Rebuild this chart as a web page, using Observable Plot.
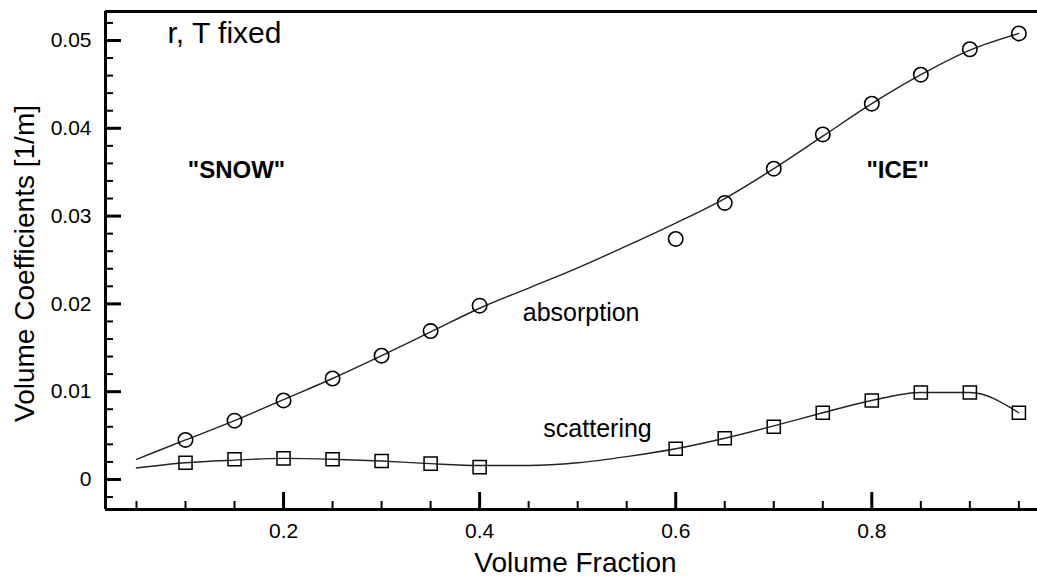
<!DOCTYPE html>
<html>
<head>
<meta charset="utf-8">
<script src="https://cdn.jsdelivr.net/npm/d3@7"></script>
<script src="https://cdn.jsdelivr.net/npm/@observablehq/plot@0.6"></script>
<style>
  html, body { margin: 0; padding: 0; background: #fff; }
  #chart svg { display: block; }
</style>
</head>
<body>
<div id="chart"></div>
<script>
// ---- Data ----
const fractions = [0.10, 0.15, 0.20, 0.25, 0.30, 0.35, 0.40, 0.60, 0.65, 0.70, 0.75, 0.80, 0.85, 0.90, 0.95];
const absorptionPts = [0.0045, 0.0067, 0.0090, 0.0115, 0.0141, 0.0169, 0.0198, 0.0274, 0.0315, 0.0354, 0.0393, 0.0428, 0.0461, 0.0490, 0.0508];
const scatteringPts = [0.0019, 0.0023, 0.0024, 0.0023, 0.0021, 0.0018, 0.0014, 0.0035, 0.0047, 0.0060, 0.0076, 0.0090, 0.0099, 0.0099, 0.0076];

// fitted curves
const curveX = [0.05, 0.10, 0.15, 0.20, 0.25, 0.30, 0.35, 0.40, 0.45, 0.50, 0.55, 0.60, 0.65, 0.70, 0.75, 0.80, 0.85, 0.90, 0.95];
const absorptionCurve = [0.0023, 0.0045, 0.0067, 0.0091, 0.0115, 0.0141, 0.0168, 0.0195, 0.0218, 0.0241, 0.0266, 0.0292, 0.0320, 0.0354, 0.0391, 0.0428, 0.0461, 0.0489, 0.0508];
const scatteringCurve = [0.0013, 0.0019, 0.0022, 0.0024, 0.0023, 0.0021, 0.0018, 0.0016, 0.0016, 0.0019, 0.0026, 0.0035, 0.0047, 0.0061, 0.0076, 0.0090, 0.0099, 0.0099, 0.0076];

// ticks
const xMajorTicks = [0.2, 0.4, 0.6, 0.8];
const xMinorTicks = [0.05, 0.10, 0.15, 0.25, 0.30, 0.35, 0.45, 0.50, 0.55, 0.65, 0.70, 0.75, 0.85, 0.90, 0.95];
const yMajorTicks = [0, 0.01, 0.02, 0.03, 0.04, 0.05];
const yMinorTicks = [-0.002, 0.002, 0.004, 0.006, 0.008, 0.012, 0.014, 0.016, 0.018, 0.022, 0.024, 0.026, 0.028,
                     0.032, 0.034, 0.036, 0.038, 0.042, 0.044, 0.046, 0.048, 0.052];

const xTitle = "Volume Fraction";
const yTitle = "Volume Coefficients [1/m]";

// ---- Layout ----
const W = 1037, H = 576, mL = 105, mR = 0, mT = 11, mB = 67;
const xDomain = [0.0184, 0.969];
const yDomain = [-0.00342, 0.0533];
// convert a tick length in pixels into data units along each axis
const xPerPx = (xDomain[1] - xDomain[0]) / (W - mL - mR);
const yPerPx = (yDomain[1] - yDomain[0]) / (H - mT - mB);

// ---- Build tables ----
const points = fractions.map((f, i) => ({f, abs: absorptionPts[i], sca: scatteringPts[i]}));
const curves = curveX.map((f, i) => ({f, abs: absorptionCurve[i], sca: scatteringCurve[i]}));

const ink = "#000";
const font = "'Liberation Sans', Arial, Helvetica, sans-serif";

const chart = Plot.plot({
  width: W,
  height: H,
  marginLeft: mL,
  marginRight: mR,
  marginTop: mT,
  marginBottom: mB,
  style: {fontFamily: font, fontSize: "21px", background: "#fff", color: ink},
  x: {domain: xDomain},
  y: {domain: yDomain},
  marks: [
    // fitted curves
    Plot.line(curves, {x: "f", y: "abs", curve: "monotone-x", stroke: "#222", strokeWidth: 1.4}),
    Plot.line(curves, {x: "f", y: "sca", curve: "monotone-x", stroke: "#222", strokeWidth: 1.4}),
    // markers
    Plot.dot(points, {x: "f", y: "abs", r: 7.2, symbol: "circle", stroke: ink, strokeWidth: 1.6, fill: "none"}),
    Plot.dot(points, {x: "f", y: "sca", r: 7.4, symbol: "square", stroke: ink, strokeWidth: 1.5, fill: "none"}),
    // inward ticks
    Plot.ruleY(yMajorTicks, {x1: xDomain[0], x2: xDomain[0] + 16 * xPerPx, stroke: ink, strokeWidth: 3}),
    Plot.ruleY(yMinorTicks, {x1: xDomain[0], x2: xDomain[0] + 8 * xPerPx, stroke: ink, strokeWidth: 2}),
    Plot.ruleX(xMajorTicks, {y1: yDomain[0], y2: yDomain[0] + 17 * yPerPx, stroke: ink, strokeWidth: 3}),
    Plot.ruleX(xMinorTicks, {y1: yDomain[0], y2: yDomain[0] + 8 * yPerPx, stroke: ink, strokeWidth: 2}),
    // frame lines
    Plot.ruleX([xDomain[0]], {stroke: ink, strokeWidth: 3}),
    Plot.ruleY([yDomain[0]], {stroke: ink, strokeWidth: 3}),
    Plot.ruleY([yDomain[1]], {stroke: ink, strokeWidth: 3}),
    // tick labels
    Plot.axisY(yMajorTicks, {tickSize: 0, tickPadding: 14, tickFormat: d => String(d), fontSize: 21, fill: ink, label: null}),
    Plot.axisX(xMajorTicks, {tickSize: 0, tickPadding: 14, tickFormat: d => String(d), fontSize: 21, fill: ink, label: null}),
    // axis titles
    Plot.text([xTitle], {frameAnchor: "bottom", dy: 62, dx: 4, text: d => d, textAnchor: "middle", lineAnchor: "bottom", fontSize: 28, fill: ink}),
    Plot.text([yTitle], {frameAnchor: "left", dx: -80, dy: 3, text: d => d, textAnchor: "middle", rotate: -90, fontSize: 28, fill: ink}),
    // annotations
    Plot.text(["r, T fixed"], {x: 0.0816, y: 0.0497, text: d => d, textAnchor: "start", lineAnchor: "bottom", fontSize: 30, fill: ink}),
    Plot.text(["\"SNOW\""], {x: 0.152, y: 0.0343, text: d => d, lineAnchor: "bottom", fontSize: 24, fontWeight: "bold", fill: ink}),
    Plot.text(["\"ICE\""], {x: 0.8265, y: 0.0343, text: d => d, lineAnchor: "bottom", fontSize: 24, fontWeight: "bold", fill: ink}),
    Plot.text(["absorption"], {x: 0.444, y: 0.0181, text: d => d, textAnchor: "start", lineAnchor: "bottom", fontSize: 25, fill: ink}),
    Plot.text(["scattering"], {x: 0.465, y: 0.0048, text: d => d, textAnchor: "start", lineAnchor: "bottom", fontSize: 25, fill: ink})
  ]
});

document.getElementById("chart").appendChild(chart);
</script>
</body>
</html>
